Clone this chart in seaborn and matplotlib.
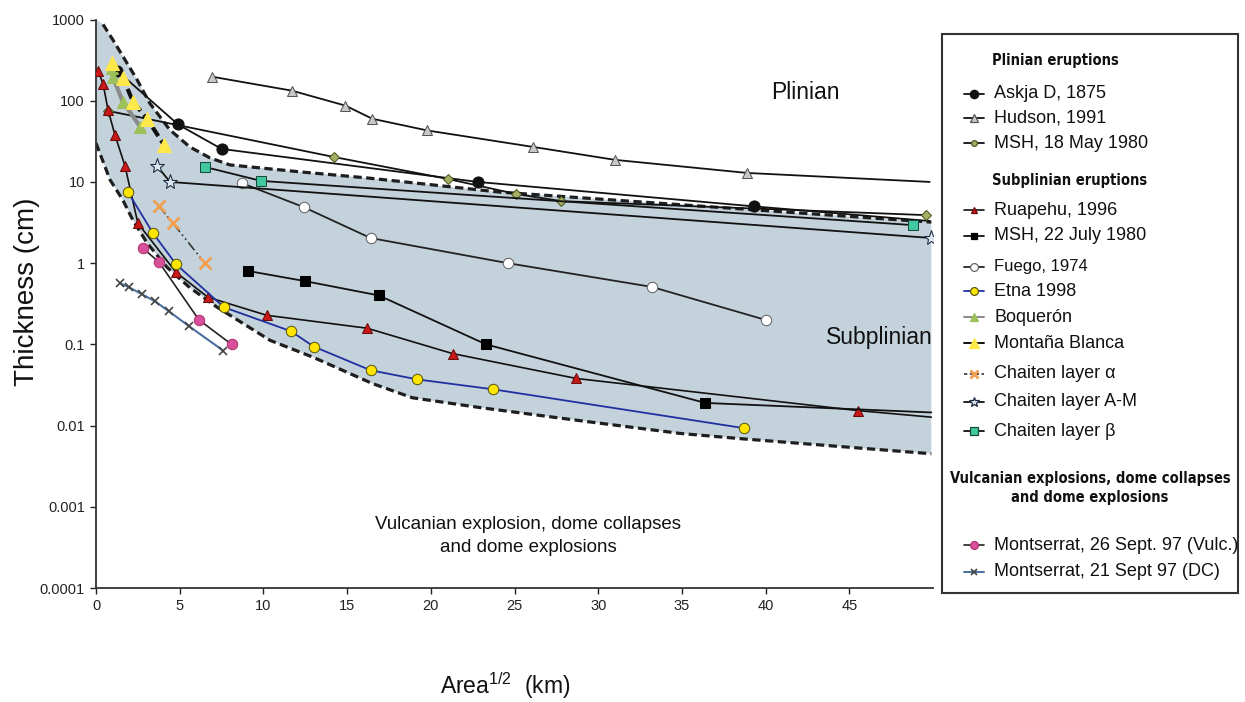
import numpy as np
import pandas as pd
import matplotlib
matplotlib.use("Agg")
import matplotlib.pyplot as plt
import seaborn as sns
from matplotlib.lines import Line2D
from matplotlib.patches import Rectangle
from matplotlib.ticker import NullLocator
from matplotlib import font_manager

# ---------------- data (Area^1/2 in km, thickness in cm) ----------------
askja_x = [1.25, 4.9, 7.5, 22.8, 39.3, 49.8]
askja_y = [235, 51, 25.5, 10, 5.0, 3.3]

hudson_x = [6.9, 11.7, 14.9, 16.5, 19.8, 26.1, 31.0, 38.9, 49.8]
hudson_y = [198, 133, 87, 60, 43, 27, 18.7, 12.9, 10]

msh18_x = [0.72, 14.2, 21.0, 25.1, 27.8, 49.6]
msh18_y = [75, 20.3, 10.9, 7.1, 5.8, 3.9]

ruapehu_x = [0.12, 0.42, 0.72, 1.13, 1.73, 2.5, 4.78, 6.69, 10.2, 16.2, 21.3, 28.7, 45.5, 49.9]
ruapehu_y = [235, 162, 77, 38, 15.8, 3.1, 0.77, 0.38, 0.228, 0.158, 0.077, 0.038, 0.0153, 0.0127]

msh22_x = [9.1, 12.5, 16.9, 23.3, 36.4, 49.9]
msh22_y = [0.8, 0.6, 0.40, 0.1, 0.019, 0.0145]

fuego_x = [8.7, 12.4, 16.4, 24.6, 33.2, 40.0]
fuego_y = [9.7, 4.9, 2.04, 1.0, 0.51, 0.2]

etna_x = [1.91, 3.4, 4.78, 7.65, 11.65, 13.0, 16.4, 19.2, 23.7, 38.7]
etna_y = [7.5, 2.35, 0.97, 0.286, 0.145, 0.094, 0.048, 0.037, 0.028, 0.0093]

boqueron_x = [0.95, 1.0, 1.6, 2.63]
boqueron_y = [250, 198, 97, 48]

mblanca_x = [0.96, 1.61, 2.21, 3.05, 4.06]
mblanca_y = [295, 192, 97, 60, 28.6]

chaiten_alpha_x = [3.76, 4.6, 6.5]
chaiten_alpha_y = [5.05, 3.1, 1.0]

chaiten_am_x = [3.64, 4.42, 49.9]
chaiten_am_y = [15.8, 10, 2.04]

chaiten_beta_x = [6.5, 9.86, 48.8]
chaiten_beta_y = [15.3, 10.3, 2.94]

mont_vulc_x = [2.8, 3.76, 6.15, 8.1]
mont_vulc_y = [1.53, 1.03, 0.2, 0.1]

mont_dc_x = [1.43, 1.97, 2.75, 3.52, 4.36, 5.56, 7.59]
mont_dc_y = [0.567, 0.505, 0.414, 0.339, 0.255, 0.167, 0.084]

# envelope of the subplinian field
upper_x = [0, 0.42, 1.0, 2.45, 3.2, 4.4, 5.6, 6.8, 8.0, 12.2, 16.2, 20.1, 24.1, 40.9, 49.9]
upper_y = [1000, 870, 566, 182, 94, 44, 27, 19.8, 16.2, 13.3, 11.2, 9.2, 7.5, 4.3, 3.2]
lower_x = [0, 0.84, 1.6, 2.2, 3.05, 4.24, 5.6, 7.2, 8.8, 10.4, 13.0, 16.5, 18.9, 22.9, 28.9, 34.9, 38.5, 49.9]
lower_y = [30, 10.6, 6.0, 3.4, 1.77, 0.89, 0.5, 0.29, 0.18, 0.112, 0.069, 0.033, 0.022, 0.0167, 0.0115, 0.008, 0.0069, 0.0045]

yticks = [1e-4, 1e-3, 1e-2, 1e-1, 1, 10, 100, 1000]
ytick_labels = ["0.0001", "0.001", "0.01", "0.1", "1", "10", "100", "1000"]
xticks = [0, 5, 10, 15, 20, 25, 30, 35, 40, 45]

# ---------------- styling ----------------
sns.set_theme(style="ticks")
plt.rcParams['font.family'] = ['Liberation Sans', 'DejaVu Sans']
plt.rcParams['mathtext.default'] = 'regular'

W, H = 1245, 702
fig = plt.figure(figsize=(W / 100, H / 100), dpi=100)
fig.patch.set_facecolor("white")
ax = fig.add_axes([96 / W, 1 - 588 / H, (933 - 96) / W, (588 - 19.5) / H])
ax.set_facecolor("white")
ax.set_yscale("log")

# shaded field
ax.fill(np.concatenate([upper_x, lower_x[::-1]]),
        np.concatenate([upper_y, lower_y[::-1]]),
        color="#c4d2db", lw=0, zorder=0.5)

dash_kw = dict(color="#1e1e1e", lw=2.3, linestyle=(0, (2.6, 1.4)), zorder=1.5)
sns.lineplot(x=upper_x[1:], y=upper_y[1:], ax=ax, sort=False, estimator=None, **dash_kw)
sns.lineplot(x=lower_x, y=lower_y, ax=ax, sort=False, estimator=None, **dash_kw)

series = [
    ("Askja D, 1875", askja_x, askja_y,
     dict(color="#111111", lw=1.3, marker="o", ms=8, mfc="#111111", mec="#111111"), "o", True),
    ("Hudson, 1991", hudson_x, hudson_y,
     dict(color="#111111", lw=1.3, marker="^", ms=7, mfc="#c9c9c9", mec="#555555"), "^", True),
    ("MSH, 18 May 1980", msh18_x, msh18_y,
     dict(color="#111111", lw=1.3, marker="D", ms=5.5, mfc="#a7ad62", mec="#4a5a20"), "o", False),
    ("Ruapehu, 1996", ruapehu_x, ruapehu_y,
     dict(color="#111111", lw=1.2, marker="^", ms=6.5, mfc="#c81818", mec="#6a0c0c"), "^", True),
    ("MSH, 22 July 1980", msh22_x, msh22_y,
     dict(color="#111111", lw=1.3, marker="s", ms=6.5, mfc="#000000", mec="#000000"), "s", True),
    ("Fuego, 1974", fuego_x, fuego_y,
     dict(color="#222222", lw=1.3, marker="o", ms=7.5, mfc="white", mec="#666666"), "o", False),
    ("Etna 1998", etna_x, etna_y,
     dict(color="#2030a0", lw=1.3, marker="o", ms=7.5, mfc="#ffe500", mec="#5a5a10"), "o", False),
    ("Boquerón", boqueron_x, boqueron_y,
     dict(color="#8a8a8a", lw=3.0, marker="^", ms=8, mfc="#9cc05a", mec="#9cc05a"), "^", False),
    ("Montaña Blanca", mblanca_x, mblanca_y,
     dict(color="#111111", lw=3.0, linestyle=(0, (2.5, 1.2)), marker="^", ms=10,
          mfc="#ffe84a", mec="#ffe84a"), "^", False),
    ("Chaiten layer α", chaiten_alpha_x, chaiten_alpha_y,
     dict(color="#333333", lw=1.2, linestyle=(0, (6, 2, 1, 2, 1, 2)), marker="x", ms=8,
          mew=2, mec="#f0a050", mfc="#f0a050"), "x", False),
    ("Chaiten layer A-M", chaiten_am_x, chaiten_am_y,
     dict(color="#111111", lw=1.3, marker="*", ms=11, mfc="#dde6ee", mec="#1a2a40"), "*", False),
    ("Chaiten layer β", chaiten_beta_x, chaiten_beta_y,
     dict(color="#111111", lw=1.3, marker="s", ms=7, mfc="#40c8a0", mec="#1a4a3a"), "s", False),
    ("Montserrat, 26 Sept. 97 (Vulc.)", mont_vulc_x, mont_vulc_y,
     dict(color="#222222", lw=1.2, marker="o", ms=7.5, mfc="#d8509a", mec="#b03070"), "o", False),
    ("Montserrat, 21 Sept 97 (DC)", mont_dc_x, mont_dc_y,
     dict(color="#4a6fa0", lw=1.5, marker="x", ms=5.5, mew=1.2, mec="#444444"), "x", False),
]

for i, (label, xs, ys, st, lm, skip_last) in enumerate(series):
    kw = dict(st)
    if skip_last:
        kw["markevery"] = list(range(len(xs) - 1))
    sns.lineplot(x=xs, y=ys, ax=ax, sort=False, estimator=None, zorder=3 + i * 0.01, **kw)

# axes
ax.set_xlim(0, 50)
ax.set_ylim(1e-4, 1e3)
ax.set_xticks(xticks)
ax.set_xticklabels([str(v) for v in xticks])
ax.set_yticks(yticks)
ax.set_yticklabels(ytick_labels)
ax.yaxis.set_minor_locator(NullLocator())
ax.tick_params(axis="both", labelsize=10.5, length=4, width=1, colors="#222222", pad=4)
sns.despine(ax=ax)
for s in ("left", "bottom"):
    ax.spines[s].set_color("#333333")
    ax.spines[s].set_linewidth(1.3)

ax.set_xlabel(r"Area$^{1/2}$  (km)", fontsize=16.5, color="#111111")
ax.xaxis.set_label_coords(0.489, -0.172)
ax.xaxis.label.set_va("center")
ax.set_ylabel("Thickness (cm)", fontsize=20, color="#111111")
ax.yaxis.set_label_coords(-0.082, 0.521)
ax.yaxis.label.set_va("center")

# field labels
ax.text(42.4, 126, "Plinian", fontsize=16.5, ha="center", va="center", color="#111111")
ax.text(46.8, 0.122, "Subplinian", fontsize=16.5, ha="center", va="center", color="#111111")
ax.text(25.8, 4.4e-4, "Vulcanian explosion, dome collapses\nand dome explosions",
        fontsize=13.5, ha="center", va="center", linespacing=1.45, color="#111111")

# ---------------- legend panel ----------------
names = {f.name for f in font_manager.fontManager.ttflist}
if "Liberation Sans Narrow" in names:
    hdr = dict(family="Liberation Sans Narrow", weight="bold", size=12)
else:
    cond = [f for f in font_manager.fontManager.ttflist
            if f.name == "DejaVu Sans" and "condensed" in str(f.stretch) and f.weight in ("bold", 700)]
    if cond:
        hdr = dict(family="DejaVu Sans", stretch="condensed", weight="bold", size=10.5)
    else:
        hdr = dict(family="Liberation Sans", weight="bold", size=10.5)


def fx(px):
    return px / W


def fy(py):
    return 1 - py / H


fig.add_artist(Rectangle((fx(942), fy(593)), fx(1238) - fx(942), fy(34) - fy(593),
                         transform=fig.transFigure, fill=False, edgecolor="#333333", lw=1.5))

fig.text(fx(992), fy(60), "Plinian eruptions", ha="left", va="center", color="#111111", **hdr)
fig.text(fx(992), fy(180), "Subplinian eruptions", ha="left", va="center", color="#111111", **hdr)
fig.text(fx(1090), fy(488), "Vulcanian explosions, dome collapses\nand dome explosions",
         ha="center", va="center", linespacing=1.35, color="#111111", **hdr)

entry_y = [94, 118, 143, 210, 236, 267, 291, 317, 343, 374, 402, 431, 545, 572]
for (label, xs, ys, st, lm, _), py in zip(series, entry_y):
    lw = min(st.get("lw", 1.2), 1.4)
    ls = "-" if label != "Chaiten layer α" else (0, (2, 1.5))
    h = Line2D([fx(964), fx(974), fx(984)], [fy(py)] * 3, transform=fig.transFigure,
               color=st["color"], lw=lw, linestyle=ls, marker=lm, markevery=[1],
               markersize=min(st["ms"] * 0.75, 7), markerfacecolor=st.get("mfc", "none"),
               markeredgecolor=st.get("mec", st["color"]), markeredgewidth=st.get("mew", 0.9))
    fig.add_artist(h)
    fs = 12 if label == "Fuego, 1974" else 13
    fig.text(fx(994), fy(py), label, ha="left", va="center", fontsize=fs, color="#111111")

fig.savefig("out.png", dpi=100, facecolor="white")
